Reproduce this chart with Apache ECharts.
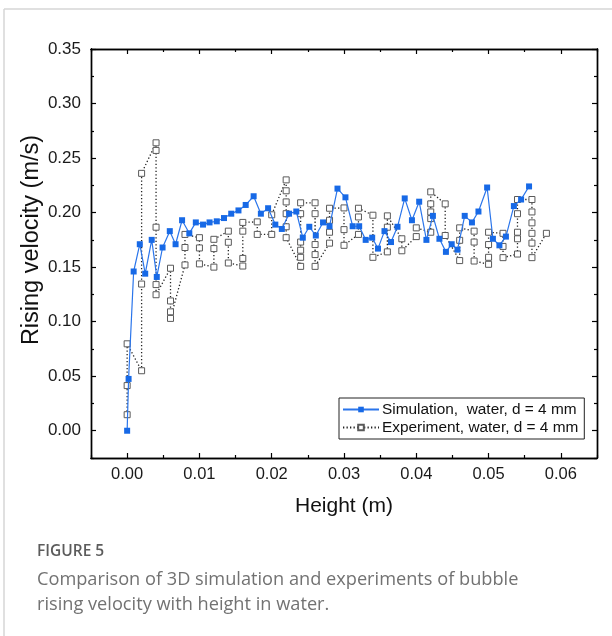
<!DOCTYPE html>
<html>
<head>
<meta charset="utf-8">
<script src="https://cdn.jsdelivr.net/npm/echarts@6/dist/echarts.min.js"></script>
<style>
  html, body { margin: 0; padding: 0; background: #fff; }
  #chart { width: 612px; height: 636px; }
</style>
</head>
<body>
<div id="chart"></div>
<script>
// Bubble rising velocity vs height, water, d = 4 mm
const simHeight = [0, 0.0002, 0.0009, 0.00175, 0.0025, 0.0034, 0.0041, 0.0049, 0.0059, 0.0067,
  0.0076, 0.0086, 0.0095, 0.0105, 0.0114, 0.0124, 0.0134, 0.0144, 0.0154, 0.0164,
  0.0175, 0.0185, 0.0195, 0.0205, 0.0214, 0.0224, 0.0234, 0.0243, 0.0252, 0.0261,
  0.0271, 0.0280, 0.0291, 0.0302, 0.0312, 0.0321, 0.0330, 0.0339, 0.0347, 0.0356,
  0.0365, 0.0374, 0.0384, 0.0394, 0.0404, 0.0414, 0.0423, 0.0432, 0.0441, 0.0449,
  0.0457, 0.0467, 0.0477, 0.0486, 0.0498, 0.0506, 0.0515, 0.0524, 0.0535, 0.0545, 0.0556];
const simVelocity = [0, 0.0475, 0.146, 0.171, 0.144, 0.175, 0.141, 0.168, 0.183, 0.171,
  0.193, 0.181, 0.191, 0.189, 0.191, 0.192, 0.195, 0.199, 0.202, 0.207,
  0.215, 0.199, 0.204, 0.189, 0.185, 0.199, 0.201, 0.177, 0.187, 0.179,
  0.191, 0.1875, 0.222, 0.214, 0.1875, 0.1875, 0.175, 0.177, 0.167, 0.183,
  0.173, 0.187, 0.213, 0.193, 0.210, 0.175, 0.197, 0.176, 0.164, 0.171,
  0.166, 0.197, 0.191, 0.201, 0.223, 0.176, 0.170, 0.178, 0.206, 0.212, 0.224];

const expHeight = [0, 0, 0, 0.002, 0.002, 0.002,
  0.004, 0.004, 0.004, 0.004, 0.004,
  0.006, 0.006, 0.006, 0.006,
  0.008, 0.008, 0.008,
  0.010, 0.010, 0.010,
  0.012, 0.012, 0.012,
  0.014, 0.014, 0.014,
  0.016, 0.016, 0.016, 0.016,
  0.018, 0.018,
  0.020, 0.020,
  0.022, 0.022, 0.022, 0.022, 0.022, 0.022,
  0.024, 0.024, 0.024, 0.024, 0.024, 0.024,
  0.026, 0.026, 0.026, 0.026, 0.026,
  0.028, 0.028, 0.028, 0.028,
  0.030, 0.030, 0.030,
  0.032, 0.032, 0.032,
  0.034, 0.034,
  0.036, 0.036, 0.036,
  0.038, 0.038,
  0.040, 0.040,
  0.042, 0.042, 0.042, 0.042, 0.042,
  0.044, 0.044,
  0.046, 0.046, 0.046,
  0.048, 0.048, 0.048,
  0.050, 0.050, 0.050, 0.050,
  0.052, 0.052, 0.052,
  0.054, 0.054, 0.054, 0.054, 0.054,
  0.056, 0.056, 0.056, 0.056, 0.056, 0.056,
  0.058];
const expVelocity = [0.0147, 0.0414, 0.0797, 0.055, 0.1345, 0.236,
  0.264, 0.257, 0.1866, 0.134, 0.1247,
  0.149, 0.119, 0.109, 0.103,
  0.152, 0.168, 0.180,
  0.177, 0.1676, 0.153,
  0.150, 0.167, 0.1755,
  0.183, 0.1728, 0.1538,
  0.151, 0.158, 0.183, 0.191,
  0.1915, 0.180,
  0.180, 0.198,
  0.230, 0.220, 0.2098, 0.199, 0.187, 0.177,
  0.1507, 0.159, 0.1655, 0.173, 0.199, 0.209,
  0.209, 0.199, 0.1707, 0.1615, 0.1507,
  0.172, 0.182, 0.193, 0.204,
  0.2043, 0.1844, 0.170,
  0.180, 0.196, 0.204,
  0.1976, 0.159,
  0.164, 0.1866, 0.197,
  0.176, 0.165,
  0.178, 0.186,
  0.182, 0.1945, 0.2006, 0.208, 0.219,
  0.208, 0.179,
  0.156, 0.1746, 0.186,
  0.183, 0.173, 0.1556,
  0.1526, 0.159, 0.1707, 0.182,
  0.181, 0.169, 0.1587,
  0.162, 0.176, 0.182, 0.199, 0.212,
  0.212, 0.2006, 0.1906, 0.181, 0.172, 0.1587,
  0.181];

// Axis ticks and labels
const xMajorTicks = [0, 0.01, 0.02, 0.03, 0.04, 0.05, 0.06];
const xMinorTicks = [-0.005, 0.005, 0.015, 0.025, 0.035, 0.045, 0.055, 0.065];
const yMajorTicks = [0, 0.05, 0.10, 0.15, 0.20, 0.25, 0.30, 0.35];
const yMinorTicks = [-0.025, 0.025, 0.075, 0.125, 0.175, 0.225, 0.275, 0.325];
const xTickLabels = ['0.00', '0.01', '0.02', '0.03', '0.04', '0.05', '0.06'];
const yTickLabels = ['0.00', '0.05', '0.10', '0.15', '0.20', '0.25', '0.30', '0.35'];

const X_MIN = -0.005, X_MAX = 0.065, Y_MIN = -0.025, Y_MAX = 0.35;
const FONT = 'Liberation Sans, Arial, sans-serif';

const simData = simHeight.map((h, i) => [h, simVelocity[i]]);
const expData = expHeight.map((h, i) => [h, expVelocity[i]]);

function labelFor(values, labels) {
  return v => {
    const i = values.findIndex(t => Math.abs(t - v) < 1e-9);
    return i >= 0 ? labels[i] : '';
  };
}

const gridBox = { left: 91, right: 15, top: 49, bottom: 178 };

function makeX(gridIndex, position, ticks, len, showLabel) {
  return {
    type: 'value', gridIndex, position, min: X_MIN, max: X_MAX,
    axisLine: { show: true, onZero: false, lineStyle: { color: '#000', width: 1.4 } },
    axisTick: { show: true, inside: true, length: len, customValues: ticks,
      lineStyle: { color: '#000', width: 1.2 } },
    axisLabel: { show: showLabel, customValues: xMajorTicks,
      formatter: labelFor(xMajorTicks, xTickLabels),
      color: '#1a1a1a', fontSize: 16.5, fontFamily: FONT, margin: 8 },
    splitLine: { show: false }
  };
}
function makeY(gridIndex, position, ticks, len, showLabel) {
  return {
    type: 'value', gridIndex, position, min: Y_MIN, max: Y_MAX,
    axisLine: { show: true, onZero: false, lineStyle: { color: '#000', width: 1.4 } },
    axisTick: { show: true, inside: true, length: len, customValues: ticks,
      lineStyle: { color: '#000', width: 1.2 } },
    axisLabel: { show: showLabel, customValues: yMajorTicks,
      formatter: labelFor(yMajorTicks, yTickLabels),
      color: '#1a1a1a', fontSize: 17, fontFamily: FONT, margin: 10 },
    splitLine: { show: false }
  };
}

const chart = echarts.init(document.getElementById('chart'), null, { renderer: 'canvas' });

chart.setOption({
  backgroundColor: '#fff',
  animation: false,
  grid: [Object.assign({}, gridBox), Object.assign({}, gridBox)],
  xAxis: [
    makeX(0, 'bottom', xMajorTicks, 5, true),
    makeX(0, 'top', xMajorTicks, 5, false),
    makeX(1, 'bottom', xMinorTicks, 3, false),
    makeX(1, 'top', xMinorTicks, 3, false)
  ],
  yAxis: [
    makeY(0, 'left', yMajorTicks, 5, true),
    makeY(0, 'right', yMajorTicks, 5, false),
    makeY(1, 'left', yMinorTicks, 3, false),
    makeY(1, 'right', yMinorTicks, 3, false)
  ],
  legend: {
    orient: 'vertical',
    left: 339, top: 398,
    padding: [4, 6, 4, 3],
    itemGap: 3,
    itemWidth: 36, itemHeight: 7,
    borderColor: '#222', borderWidth: 1, borderRadius: 0,
    textStyle: { fontSize: 15.4, fontFamily: FONT, color: '#111', padding: [0, 0, 0, -2] },
    data: ['Simulation,  water, d = 4 mm', 'Experiment, water, d = 4 mm']
  },
  series: [
    {
      name: 'Experiment, water, d = 4 mm',
      type: 'line', xAxisIndex: 0, yAxisIndex: 0,
      data: expData,
      symbol: 'rect', symbolSize: 6,
      itemStyle: { color: '#fff', borderColor: '#5a5a5a', borderWidth: 1 },
      lineStyle: { color: '#222', width: 1.3, type: [1.3, 2.2] },
      z: 2
    },
    {
      name: 'Simulation,  water, d = 4 mm',
      type: 'line', xAxisIndex: 0, yAxisIndex: 0,
      data: simData,
      symbol: 'rect', symbolSize: 6,
      itemStyle: { color: '#1769e6' },
      lineStyle: { color: '#2a75eb', width: 1.2 },
      z: 3
    }
  ],
  graphic: [
    // card frame
    { type: 'line', shape: { x1: 4, y1: 9, x2: 612, y2: 9 }, style: { stroke: '#d6d6d6', lineWidth: 1.5 } },
    { type: 'line', shape: { x1: 4, y1: 9, x2: 4, y2: 636 }, style: { stroke: '#d6d6d6', lineWidth: 1.5 } },
    // axis titles
    { type: 'text', x: 32, y: 240, rotation: Math.PI / 2,
      style: { text: 'Rising velocity (m/s)', font: '23.5px ' + FONT, fill: '#111', textAlign: 'center', textVerticalAlign: 'middle' } },
    { type: 'text', x: 344, y: 506,
      style: { text: 'Height (m)', font: '21px ' + FONT, fill: '#111', textAlign: 'center', textVerticalAlign: 'middle' } },
    // caption
    { type: 'text', left: 37, top: 544,
      style: { text: 'FIGURE 5', font: '600 15.5px "Open Sans", "Noto Sans", sans-serif', fill: '#5c5c5c' } },
    { type: 'text', left: 37, top: 567,
      style: { text: 'Comparison of 3D simulation and experiments of bubble\nrising velocity with height in water.',
        font: '18.2px "Open Sans", "Noto Sans", sans-serif', fill: '#727272', lineHeight: 25 } }
  ]
});
</script>
</body>
</html>
